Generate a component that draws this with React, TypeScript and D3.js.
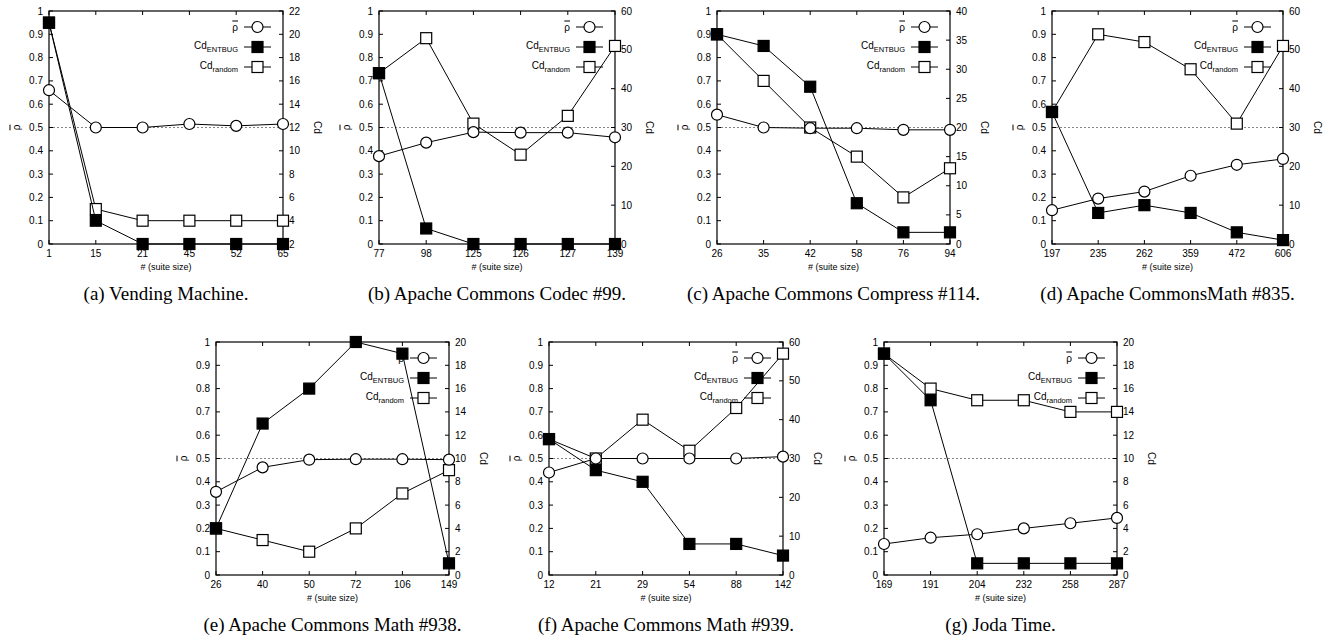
import * as d3 from "d3";

// (a) Vending Machine
const catsA = ["1", "15", "21", "45", "52", "65"];
const rhoA = [0.66, 0.5, 0.5, 0.515, 0.507, 0.515];
const entbugA = [21, 4, 2, 2, 2, 2];
const randomA = [21, 5, 4, 4, 4, 4];
const cdTicksA = [2, 4, 6, 8, 10, 12, 14, 16, 18, 20, 22];

// (b) Apache Commons Codec #99
const catsB = ["77", "98", "125", "126", "127", "139"];
const rhoB = [0.377, 0.435, 0.48, 0.478, 0.478, 0.458];
const entbugB = [44, 4, 0, 0, 0, 0];
const randomB = [44, 53, 31, 23, 33, 51];
const cdTicksB = [0, 10, 20, 30, 40, 50, 60];

// (c) Apache Commons Compress #114
const catsC = ["26", "35", "42", "58", "76", "94"];
const rhoC = [0.555, 0.5, 0.497, 0.497, 0.49, 0.49];
const entbugC = [36, 34, 27, 7, 2, 2];
const randomC = [36, 28, 20, 15, 8, 13];
const cdTicksC = [0, 5, 10, 15, 20, 25, 30, 35, 40];

// (d) Apache CommonsMath #835
const catsD = ["197", "235", "262", "359", "472", "606"];
const rhoD = [0.145, 0.195, 0.225, 0.293, 0.34, 0.365];
const entbugD = [34, 8, 10, 8, 3, 1];
const randomD = [34, 54, 52, 45, 31, 51];
const cdTicksD = [0, 10, 20, 30, 40, 50, 60];

// (e) Apache Commons Math #938
const catsE = ["26", "40", "50", "72", "106", "149"];
const rhoE = [0.357, 0.462, 0.495, 0.497, 0.497, 0.495];
const entbugE = [4, 13, 16, 20, 19, 1];
const randomE = [4, 3, 2, 4, 7, 9];
const cdTicksE = [0, 2, 4, 6, 8, 10, 12, 14, 16, 18, 20];

// (f) Apache Commons Math #939
const catsF = ["12", "21", "29", "54", "88", "142"];
const rhoF = [0.44, 0.5, 0.5, 0.5, 0.5, 0.508];
const entbugF = [35, 27, 24, 8, 8, 5];
const randomF = [35, 30, 40, 32, 43, 57];
const cdTicksF = [0, 10, 20, 30, 40, 50, 60];

// (g) Joda Time
const catsG = ["169", "191", "204", "232", "258", "287"];
const rhoG = [0.133, 0.16, 0.175, 0.2, 0.222, 0.245];
const entbugG = [19, 15, 1, 1, 1, 1];
const randomG = [19, 16, 15, 15, 14, 14];
const cdTicksG = [0, 2, 4, 6, 8, 10, 12, 14, 16, 18, 20];

const rhoTicks = [0, 0.1, 0.2, 0.3, 0.4, 0.5, 0.6, 0.7, 0.8, 0.9, 1];

const panels = [
  { cap: "(a) Vending Machine.", cats: catsA, rho: rhoA, ent: entbugA, rnd: randomA, cdTicks: cdTicksA, left: 49, right: 283, top: 11 },
  { cap: "(b) Apache Commons Codec #99.", cats: catsB, rho: rhoB, ent: entbugB, rnd: randomB, cdTicks: cdTicksB, left: 379, right: 615, top: 11 },
  { cap: "(c) Apache Commons Compress #114.", cats: catsC, rho: rhoC, ent: entbugC, rnd: randomC, cdTicks: cdTicksC, left: 717, right: 950, top: 11 },
  { cap: "(d) Apache CommonsMath #835.", cats: catsD, rho: rhoD, ent: entbugD, rnd: randomD, cdTicks: cdTicksD, left: 1052, right: 1283, top: 11 },
  { cap: "(e) Apache Commons Math #938.", cats: catsE, rho: rhoE, ent: entbugE, rnd: randomE, cdTicks: cdTicksE, left: 216, right: 449, top: 342 },
  { cap: "(f) Apache Commons Math #939.", cats: catsF, rho: rhoF, ent: entbugF, rnd: randomF, cdTicks: cdTicksF, left: 549, right: 783, top: 342 },
  { cap: "(g) Joda Time.", cats: catsG, rho: rhoG, ent: entbugG, rnd: randomG, cdTicks: cdTicksG, left: 884, right: 1117, top: 342 },
];

const H = 233;
const SANS = "'Liberation Sans', Arial, sans-serif";
const SERIF = "'Liberation Serif', 'Times New Roman', serif";
const SQ = 11; // marker square side
const R = 5.5; // marker circle radius

const Square = ({ cx, cy, filled }) => (
  <rect x={cx - SQ / 2} y={cy - SQ / 2} width={SQ} height={SQ}
    fill={filled ? "#000" : "#fff"} stroke="#000" strokeWidth={1.2} />
);
const Circle = ({ cx, cy }) => (
  <circle cx={cx} cy={cy} r={R} fill="#fff" stroke="#000" strokeWidth={1.2} />
);

function Panel({ p }) {
  const bottom = p.top + H;
  const x = d3.scalePoint().domain(p.cats).range([p.left, p.right]);
  const y = d3.scaleLinear().domain([0, 1]).range([bottom, p.top]);
  const y2 = d3.scaleLinear()
    .domain([p.cdTicks[0], p.cdTicks[p.cdTicks.length - 1]])
    .range([bottom, p.top]);

  const lineRho = d3.line<number>().x((_, i) => x(p.cats[i])!).y((d) => y(d));
  const lineCd = d3.line<number>().x((_, i) => x(p.cats[i])!).y((d) => y2(d));
  const mid = (p.top + bottom) / 2;
  const cx = (p.left + p.right) / 2;

  // legend rows
  const lgY = [p.top + 16, p.top + 36, p.top + 56];
  const lgText = p.right - 45;
  const lgL = p.right - 39;
  const lgR = p.right - 12;
  const lgM = (lgL + lgR) / 2;

  return (
    <g>
      {/* 0.5 reference line */}
      <line x1={p.left} x2={p.right} y1={y(0.5)} y2={y(0.5)}
        stroke="#666" strokeWidth={0.8} strokeDasharray="2,2" />

      {/* left ticks */}
      {rhoTicks.map((t) => (
        <g key={"l" + t}>
          <line x1={p.left} x2={p.left + 4} y1={y(t)} y2={y(t)} stroke="#000" />
          <text x={p.left - 6} y={y(t)} dy="0.35em" textAnchor="end" fontSize={10} fontFamily={SANS}>{t}</text>
        </g>
      ))}
      {/* right ticks */}
      {p.cdTicks.map((t) => (
        <g key={"r" + t}>
          <line x1={p.right - 4} x2={p.right} y1={y2(t)} y2={y2(t)} stroke="#000" />
          <text x={p.right + 6} y={y2(t)} dy="0.35em" textAnchor="start" fontSize={10} fontFamily={SANS}>{t}</text>
        </g>
      ))}
      {/* x ticks, mirrored on top */}
      {p.cats.map((c) => (
        <g key={"x" + c}>
          <line x1={x(c)} x2={x(c)} y1={bottom} y2={bottom - 4} stroke="#000" />
          <line x1={x(c)} x2={x(c)} y1={p.top} y2={p.top + 4} stroke="#000" />
          <text x={x(c)} y={bottom + 13} textAnchor="middle" fontSize={10} fontFamily={SANS}>{c}</text>
        </g>
      ))}
      <rect x={p.left} y={p.top} width={p.right - p.left} height={H}
        fill="none" stroke="#000" strokeWidth={1.2} />

      <text x={cx} y={bottom + 26} textAnchor="middle" fontSize={9} fontFamily={SANS}># (suite size)</text>
      <text transform={`translate(${p.left - 33},${mid}) rotate(-90)`} textAnchor="middle" dy="0.35em"
        fontSize={10} fontFamily={SANS} style={{ textDecoration: "overline" }}>ρ</text>
      <text transform={`translate(${p.right + 34},${mid}) rotate(90)`} textAnchor="middle" dy="0.35em"
        fontSize={10} fontFamily={SANS}>Cd</text>

      {/* series: random, ENTBUG, rho */}
      <path d={lineCd(p.rnd)!} fill="none" stroke="#000" strokeWidth={1} />
      {p.rnd.map((v, i) => <Square key={"s" + i} cx={x(p.cats[i])!} cy={y2(v)} filled={false} />)}
      <path d={lineCd(p.ent)!} fill="none" stroke="#000" strokeWidth={1} />
      {p.ent.map((v, i) => <Square key={"f" + i} cx={x(p.cats[i])!} cy={y2(v)} filled={true} />)}
      <path d={lineRho(p.rho)!} fill="none" stroke="#000" strokeWidth={1} />
      {p.rho.map((v, i) => <Circle key={"c" + i} cx={x(p.cats[i])!} cy={y(v)} />)}

      {/* legend */}
      <text x={lgText} y={lgY[0]} dy="0.35em" textAnchor="end" fontSize={10} fontFamily={SANS}
        style={{ textDecoration: "overline" }}>ρ</text>
      <line x1={lgL} x2={lgR} y1={lgY[0]} y2={lgY[0]} stroke="#000" />
      <Circle cx={lgM} cy={lgY[0]} />
      <text x={lgText} y={lgY[1]} dy="0.2em" textAnchor="end" fontSize={10} fontFamily={SANS}>
        Cd<tspan fontSize={7.5} dy="2.5">ENTBUG</tspan>
      </text>
      <line x1={lgL} x2={lgR} y1={lgY[1]} y2={lgY[1]} stroke="#000" />
      <Square cx={lgM} cy={lgY[1]} filled={true} />
      <text x={lgText} y={lgY[2]} dy="0.2em" textAnchor="end" fontSize={10} fontFamily={SANS}>
        Cd<tspan fontSize={7.5} dy="2.5">random</tspan>
      </text>
      <line x1={lgL} x2={lgR} y1={lgY[2]} y2={lgY[2]} stroke="#000" />
      <Square cx={lgM} cy={lgY[2]} filled={false} />

      <text x={cx} y={bottom + 56} textAnchor="middle" fontSize={19} fontFamily={SERIF}>{p.cap}</text>
    </g>
  );
}

export default function App() {
  return (
    <svg width={1331} height={642} style={{ position: "fixed", left: 0, top: 0, background: "#fff" }}>
      {panels.map((p) => <Panel key={p.cap} p={p} />)}
    </svg>
  );
}
